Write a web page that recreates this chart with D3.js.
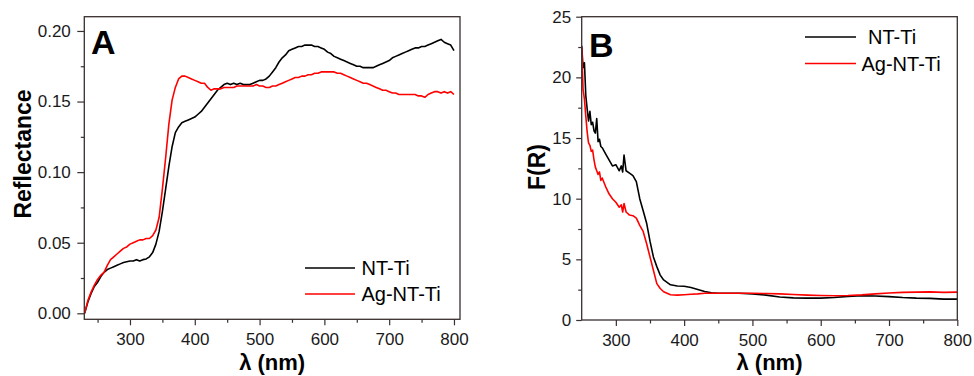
<!DOCTYPE html>
<html><head><meta charset="utf-8">
<script src="https://cdn.jsdelivr.net/npm/d3@7"></script>
<style>
body{margin:0;background:#fff;}
svg{display:block;font-family:"Liberation Sans",Arial,sans-serif;}
</style></head>
<body>
<script>
// ---------- DATA ----------
const seriesNames = ["NT-Ti", "Ag-NT-Ti"];
// Panel A: reflectance vs wavelength (5 nm steps, 230-800 nm)
const wavelengthA = d3.range(230, 801, 5);
const reflNT = [0.000,0.008,0.014,0.019,0.022,0.026,0.029,0.031,0.032,0.033,
0.034,0.035,0.036,0.0365,0.037,0.037,0.038,0.037,0.038,0.0385,
0.040,0.043,0.049,0.058,0.072,0.088,0.104,0.118,0.128,0.132,
0.135,0.136,0.137,0.138,0.139,0.141,0.143,0.146,0.149,0.152,
0.155,0.158,0.160,0.162,0.163,0.162,0.163,0.162,0.163,0.162,
0.162,0.162,0.163,0.164,0.165,0.165,0.166,0.168,0.171,0.174,
0.178,0.181,0.183,0.186,0.187,0.188,0.189,0.189,0.190,0.190,
0.190,0.189,0.189,0.188,0.187,0.185,0.184,0.182,0.181,0.180,
0.179,0.178,0.177,0.176,0.175,0.175,0.174,0.174,0.174,0.174,
0.175,0.176,0.177,0.178,0.179,0.181,0.182,0.183,0.184,0.185,
0.186,0.187,0.188,0.188,0.189,0.189,0.190,0.191,0.192,0.193,
0.194,0.192,0.191,0.190,0.186];
const reflAg = [0.000,0.009,0.015,0.020,0.024,0.027,0.029,0.034,0.038,0.040,
0.042,0.044,0.046,0.047,0.049,0.050,0.051,0.052,0.052,0.053,
0.053,0.055,0.059,0.068,0.088,0.110,0.134,0.151,0.160,0.166,
0.168,0.168,0.167,0.166,0.165,0.164,0.163,0.163,0.160,0.158,
0.159,0.159,0.159,0.160,0.160,0.160,0.160,0.161,0.161,0.161,
0.161,0.161,0.161,0.162,0.161,0.161,0.160,0.160,0.161,0.161,
0.162,0.163,0.164,0.165,0.166,0.167,0.167,0.168,0.168,0.169,
0.169,0.170,0.170,0.171,0.171,0.171,0.171,0.171,0.170,0.170,
0.169,0.168,0.167,0.166,0.165,0.164,0.163,0.163,0.162,0.161,
0.160,0.159,0.158,0.158,0.157,0.156,0.156,0.155,0.155,0.155,
0.155,0.155,0.155,0.154,0.154,0.153,0.155,0.156,0.157,0.157,
0.156,0.157,0.156,0.157,0.155];
// Panel B: Kubelka-Munk F(R) vs wavelength
const wavelengthB = [250,252,254,256,258,260,262,264,266,268,270,272,274,276,278,280,285,290,295,300,
305,308,310,312,315,320,325,330,335,340,345,350,355,360,365,370,380,390,400,410,
420,430,440,450,460,480,500,520,540,560,580,600,620,640,660,680,700,720,740,760,780,800];
const frNT = [22.6,20.8,21.2,18.5,17.4,16.4,17.2,16.1,16.3,15.6,15.4,16.6,14.7,14.9,14.3,14.2,13.7,13.2,12.7,12.8,
12.3,12.7,12.2,13.6,12.3,12.1,11.9,11.4,10.0,9.0,8.0,6.5,5.2,4.4,3.7,3.3,2.9,2.8,2.78,2.68,
2.52,2.35,2.25,2.2,2.2,2.2,2.15,2.05,1.9,1.82,1.8,1.8,1.85,1.95,2.0,1.98,1.93,1.85,1.8,1.78,1.72,1.72];
const frAg = [22.5,19.0,18.2,16.8,15.5,14.6,14.4,13.9,14.0,13.2,12.6,12.3,12.0,12.2,11.5,11.7,11.0,10.4,10.0,9.7,
9.3,9.5,8.9,9.6,8.9,8.65,8.6,8.4,7.8,7.3,6.3,5.2,4.1,3.0,2.6,2.33,2.08,2.05,2.08,2.12,
2.15,2.2,2.2,2.2,2.2,2.2,2.2,2.18,2.15,2.1,2.05,2.02,2.0,2.02,2.07,2.15,2.22,2.28,2.3,2.32,2.28,2.3];
const xTicks = [300,400,500,600,700,800];
const xMinorA = [250,350,450,550,650,750];
const yTicksA = [0,0.05,0.10,0.15,0.20];
const yMinorA = [0.025,0.075,0.125,0.175];
const yTicksB = [0,5,10,15,20,25];
const yMinorB = [2.5,7.5,12.5,17.5,22.5];
const colors = ["#000000", "#ff0000"];

// ---------- DRAW ----------
const W = 974, H = 376;
const svg = d3.select("body").append("svg").attr("width", W).attr("height", H);
const frameColor = "#3a2f2f";
const tickFont = 17;

function panel(opt) {
  const x = d3.scaleLinear().domain(opt.xDom).range(opt.xRange);
  const y = d3.scaleLinear().domain(opt.yDom).range(opt.yRange);
  const g = svg.append("g");
  const x0 = opt.xRange[0], x1 = opt.xRange[1], yb = opt.yRange[0], yt = opt.yRange[1];

  // minor ticks
  g.append("g").attr("transform", `translate(0,${yb})`)
    .call(d3.axisBottom(x).tickValues(opt.xMinor).tickSize(3.5).tickFormat(""))
    .call(s => s.select(".domain").remove());
  g.append("g").attr("transform", `translate(${x0},0)`)
    .call(d3.axisLeft(y).tickValues(opt.yMinor).tickSize(3.5).tickFormat(""))
    .call(s => s.select(".domain").remove());
  // major ticks
  const ax = g.append("g").attr("transform", `translate(0,${yb})`)
    .call(d3.axisBottom(x).tickValues(xTicks).tickSize(6).tickPadding(8).tickFormat(d3.format("d")))
    .call(s => s.select(".domain").remove());
  const ay = g.append("g").attr("transform", `translate(${x0},0)`)
    .call(d3.axisLeft(y).tickValues(opt.yTicks).tickSize(opt.yTickLen).tickPadding(opt.yPad).tickFormat(opt.yFmt))
    .call(s => s.select(".domain").remove());
  g.selectAll(".tick line").attr("stroke", frameColor).attr("stroke-width", 1.2);
  g.selectAll(".tick text").attr("font-size", tickFont).attr("fill", "#1a1a1a")
    .attr("font-family", "Liberation Sans, Arial, sans-serif");

  // clip & curves
  const clipId = "clip" + opt.id;
  svg.append("clipPath").attr("id", clipId).append("rect")
    .attr("x", x0).attr("y", yt).attr("width", x1 - x0).attr("height", yb - yt);
  const line = d3.line().x(d => x(d[0])).y(d => y(d[1]));
  opt.series.forEach((s, i) => {
    g.append("path").datum(opt.wl.map((w, k) => [w, s[k]]))
      .attr("clip-path", `url(#${clipId})`)
      .attr("fill", "none").attr("stroke", colors[i]).attr("stroke-width", 1.6)
      .attr("stroke-linejoin", "round").attr("d", line);
  });

  // frame
  g.append("rect").attr("x", x0).attr("y", yt).attr("width", x1 - x0).attr("height", yb - yt)
    .attr("fill", "none").attr("stroke", frameColor).attr("stroke-width", 1.3);

  // panel letter
  g.append("text").attr("x", opt.letterX).attr("y", opt.letterY).attr("font-size", 34)
    .attr("font-weight", "bold").attr("fill", "#000").text(opt.letter);

  // axis titles
  g.append("text").attr("x", (x0 + x1) / 2).attr("y", 370).attr("text-anchor", "middle")
    .attr("font-size", 22).attr("font-weight", "bold").attr("fill", "#000").text("λ (nm)");
  g.append("text").attr("transform", `translate(${opt.yTitleX},${opt.yTitleY}) rotate(-90)`)
    .attr("text-anchor", "middle").attr("font-size", 23).attr("font-weight", "bold")
    .attr("fill", "#000").text(opt.yTitle);

  // legend
  seriesNames.forEach((n, i) => {
    const ly = opt.legY[i];
    g.append("line").attr("x1", opt.legX1).attr("x2", opt.legX2).attr("y1", ly).attr("y2", ly)
      .attr("stroke", colors[i]).attr("stroke-width", 1.5);
    g.append("text").attr("x", opt.legTextX[i]).attr("y", ly + 7).attr("font-size", 20)
      .attr("fill", "#000").text(n);
  });
}

panel({
  id: "A", xDom: [229.5, 809.3], xRange: [84.3, 460], yDom: [-0.00425, 0.2101], yRange: [319.3, 16.7],
  xMinor: xMinorA, yTicks: yTicksA, yMinor: yMinorA, yFmt: d3.format(".2f"), yTickLen: 7, yPad: 6.5,
  wl: wavelengthA, series: [reflNT, reflAg],
  letter: "A", letterX: 91, letterY: 53.5,
  yTitle: "Reflectance", yTitleX: 31, yTitleY: 154,
  legX1: 305, legX2: 355, legY: [268, 294], legTextX: [361.5, 361.5]
});
panel({
  id: "B", xDom: [250, 800], xRange: [581.7, 957.3], yDom: [0, 25], yRange: [320, 16.7],
  xMinor: [350,450,550,650,750], yTicks: yTicksB, yMinor: yMinorB, yFmt: d3.format("d"), yTickLen: 5.5, yPad: 5,
  wl: wavelengthB, series: [frNT, frAg],
  letter: "B", letterX: 589, letterY: 56.5,
  yTitle: "F(R)", yTitleX: 545, yTitleY: 167,
  legX1: 805, legX2: 856, legY: [37, 63.5], legTextX: [868, 861.5]
});
</script>
</body></html>
